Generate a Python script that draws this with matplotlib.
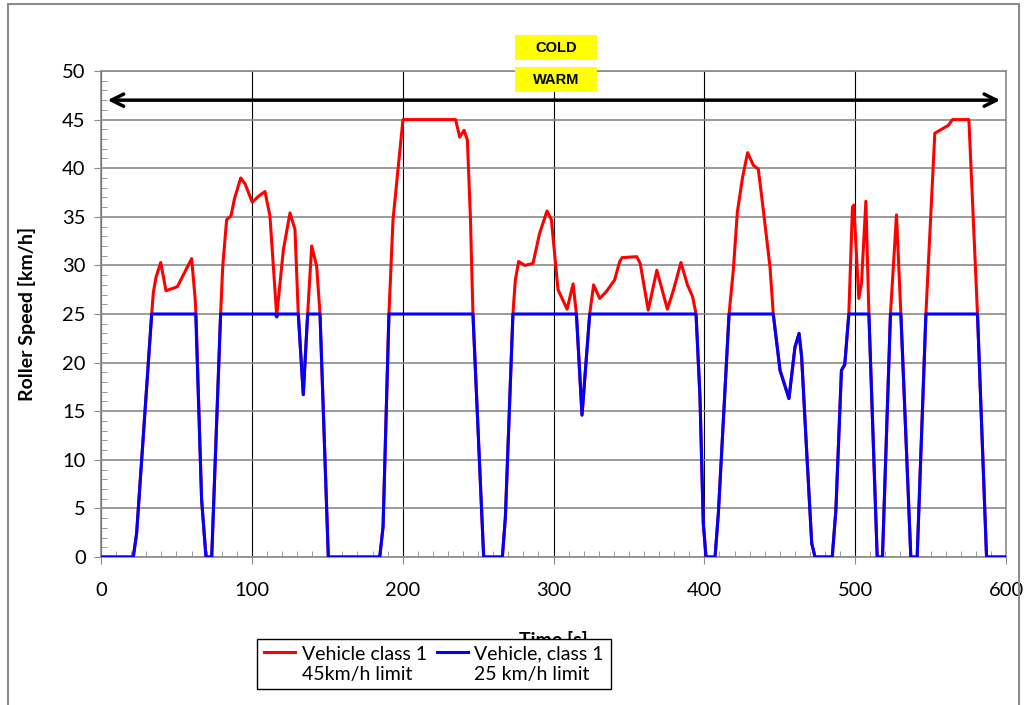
import matplotlib
matplotlib.use('Agg')
from matplotlib import pyplot as plt
from matplotlib.patches import Rectangle
from matplotlib.ticker import MultipleLocator

# roller speed, vehicle class 1 with 45 km/h limit
time_45 = [0, 21.4, 23.6, 33.6, 34.7, 36.5, 39.6, 43.1, 46.9, 50.6, 55.2, 60.1,
           62.3, 63.0, 66.7, 69.6, 73.4, 79.3, 80.7, 83.3, 86.2, 88.4, 92.6, 95.5,
           100.3, 104.3, 108.7, 112.0, 116.5, 120.9, 125.3, 128.6, 130.8, 134.1,
           137.0, 139.7, 143.0, 145.2, 150.7, 184.8, 187.0, 190.9, 193.6, 196.9,
           200.2, 235.1, 237.8, 240.7, 242.9, 244.9, 246.6, 253.7, 266.1, 268.1,
           273.1, 274.7, 276.9, 280.9, 286.4, 290.8, 295.7, 298.6, 303.0, 309.0,
           313.0, 315.2, 318.9, 324.0, 326.6, 330.6, 335.0, 340.5, 343.9, 345.5,
           355.2, 357.5, 362.8, 368.5, 375.5, 379.6, 384.5, 388.8, 392.2, 394.5,
           397.1, 399.3, 401.1, 407.1, 409.3, 416.4, 419.2, 421.9, 425.4, 428.7,
           432.5, 435.8, 439.1, 443.5, 445.7, 450.2, 456.1, 460.1, 462.8, 464.5,
           467.8, 471.2, 473.4, 484.8, 487.2, 490.9, 493.1, 495.8, 498.2, 499.1,
           502.4, 504.2, 507.1, 509.1, 514.6, 518.1, 523.4, 527.4, 530.3, 536.9,
           541.1, 546.9, 552.8, 561.7, 564.5, 575.4, 581.1, 587.1, 600]
speed_45 = [0, 0, 2.4, 25, 27.2, 28.8, 30.3, 27.4, 27.6, 27.8, 29.2, 30.7,
            26.8, 25, 5.9, 0, 0, 25, 29.9, 34.7, 35.1, 36.8, 39.0, 38.4,
            36.5, 37.1, 37.6, 35.1, 24.8, 31.6, 35.4, 33.7, 25, 16.7,
            25, 32.0, 29.9, 25, 0, 0, 3.1, 25, 34.7, 39.9,
            45, 45, 43.2, 43.9, 42.9, 35, 25, 0, 0, 4.1,
            25, 28.5, 30.4, 30.0, 30.2, 33.3, 35.6, 34.7, 27.5, 25.5,
            28.1, 25, 14.6, 25, 28.0, 26.6, 27.3, 28.5, 30.4, 30.8,
            30.9, 30.2, 25.4, 29.5, 25.5, 27.5, 30.3, 28.0, 26.8, 25,
            16.5, 3.5, 0, 0, 4.5, 25, 29.5, 35.5, 39.1, 41.6,
            40.3, 39.9, 35.7, 29.9, 25, 19.2, 16.3, 21.6, 23.0, 20.6,
            11, 1.4, 0, 0, 4.8, 19.2, 19.8, 25, 36.0, 36.2,
            26.6, 28.2, 36.6, 25, 0, 0, 25, 35.2, 25, 0,
            0, 25, 43.6, 44.4, 45, 45, 25, 0, 0]

# roller speed, vehicle class 1 with 25 km/h limit
time_25 = [0, 21.4, 23.6, 33.6, 62.8, 66.7, 69.6, 73.4, 79.3, 115.5, 116.5, 117.5,
           130.8, 134.1, 137.0, 145.2, 150.7, 184.8, 187.0, 190.9, 246.6, 253.7,
           266.1, 268.1, 273.1, 315.2, 318.9, 324.0, 394.5, 397.1, 399.3, 401.1,
           407.1, 409.3, 416.4, 445.7, 450.2, 456.1, 460.1, 462.8, 464.5, 467.8,
           471.2, 473.4, 484.8, 487.2, 490.9, 493.1, 495.8, 509.1, 514.6, 518.1,
           523.4, 530.3, 536.9, 541.1, 546.9, 581.1, 587.1, 600]
speed_25 = [0, 0, 2.4, 25, 25, 5.9, 0, 0, 25, 25, 24.7, 25,
            25, 16.7, 25, 25, 0, 0, 3.1, 25, 25, 0,
            0, 4.1, 25, 25, 14.6, 25, 25, 16.5, 3.5, 0,
            0, 4.5, 25, 25, 19.2, 16.3, 21.6, 23.0, 20.6, 11,
            1.4, 0, 0, 4.8, 19.2, 19.8, 25, 25, 0, 0,
            25, 25, 0, 0, 25, 25, 0, 0]

labels = ['Vehicle class 1\n45km/h limit', 'Vehicle, class 1\n25 km/h limit']

plt.rcParams['font.family'] = ['Lato', 'DejaVu Sans']

fig = plt.figure(figsize=(10.28, 7.05), dpi=100)
ax = fig.add_axes([101/1028, 1 - 557/705, 905/1028, 486/705])

# outer chart frame
fig.patches.append(Rectangle((8/1028, -0.02), 1011/1028, 1.0 - 4/705 + 0.02,
                             transform=fig.transFigure, fill=False,
                             edgecolor='#8c8c8c', linewidth=1.5))

ax.plot(time_45, speed_45, color='#ff0000', lw=2.2, label=labels[0], zorder=3)
ax.plot(time_25, speed_25, color='#0000ff', lw=2.2, label=labels[1], zorder=4)

ax.set_xlim(0, 600)
ax.set_ylim(0, 50)
ax.xaxis.set_major_locator(MultipleLocator(100))
ax.xaxis.set_minor_locator(MultipleLocator(10))
ax.yaxis.set_major_locator(MultipleLocator(5))
ax.yaxis.set_minor_locator(MultipleLocator(1))

ax.grid(axis='y', which='major', color='#8a8a8a', lw=1.2)
ax.grid(axis='x', which='major', color='black', lw=0.8)
ax.set_axisbelow(True)

for sp in ax.spines.values():
    sp.set_color('#8a8a8a')
    sp.set_linewidth(1.2)

ax.tick_params(axis='both', which='major', direction='out', length=5,
               color='#8a8a8a', labelsize=14.5)
ax.tick_params(axis='x', which='major', pad=13)
ax.tick_params(axis='y', which='major', pad=6)
ax.tick_params(axis='both', which='minor', direction='in', length=4,
               color='#8a8a8a')

ax.set_ylabel('Roller Speed [km/h]', fontsize=14, fontweight='bold')
ax.yaxis.set_label_coords(-0.072, 0.5)
ax.set_xlabel('Time [s]', fontsize=14, fontweight='bold', va='top')
ax.xaxis.set_label_coords(0.5, -0.152)

# double arrow across the whole cycle
ax.annotate('', xy=(2.5, 47), xytext=(598, 47),
            arrowprops=dict(arrowstyle='<->', lw=2.5, color='black',
                            mutation_scale=22), zorder=5)

# COLD / WARM tags
for txt, top in [('COLD', 35), ('WARM', 67)]:
    fig.patches.append(Rectangle((515/1028, 1 - (top + 25)/705), 82/1028, 25/705,
                                 transform=fig.transFigure, facecolor='#ffff00',
                                 edgecolor='none'))
    fig.text(556/1028, 1 - (top + 12.5)/705, txt, ha='center', va='center',
             fontsize=10.5, fontweight='bold', family='Liberation Sans')

leg = fig.legend(loc='upper left', bbox_to_anchor=(257/1028, 66/705), ncol=2,
                 fontsize=14, frameon=True, fancybox=False, edgecolor='black',
                 framealpha=1, borderpad=0.35, handlelength=1.6, handletextpad=0.35,
                 columnspacing=0.5, borderaxespad=0, labelspacing=0.3)
leg.get_frame().set_linewidth(1.0)
leg.set_zorder(10)
for ln in leg.get_lines():
    ln.set_linewidth(2.2)
    ln.set_ydata([y + 9 for y in ln.get_ydata()])

fig.savefig('out.png', dpi=100)
